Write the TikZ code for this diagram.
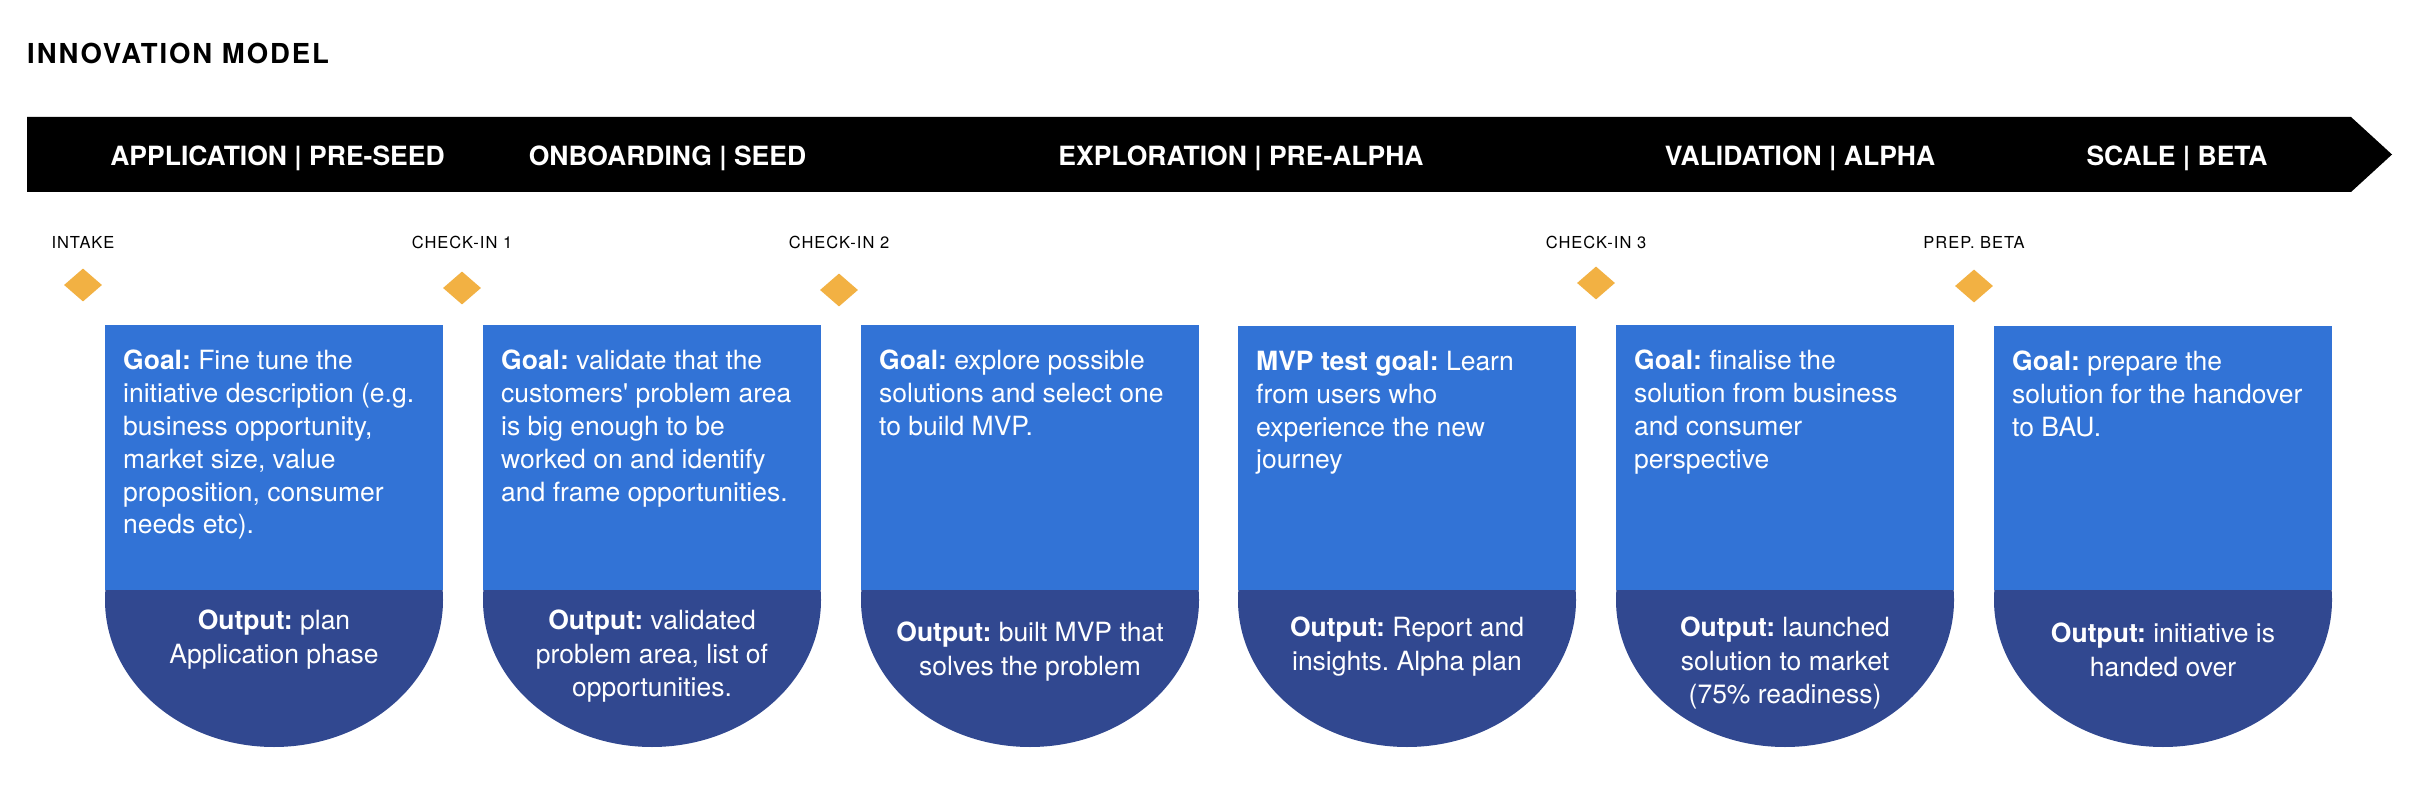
\documentclass[tikz,border=0pt]{standalone}
\usepackage{fontspec}
\setmainfont{TeX Gyre Heros}
\newfontfamily\titlefont[LetterSpace=7]{TeX Gyre Heros}
\newfontfamily\gatefont[LetterSpace=6]{TeX Gyre Heros}
\usetikzlibrary{shapes.geometric}
\definecolor{goalblue}{RGB}{50,115,214}
\definecolor{outblue}{RGB}{49,72,144}
\definecolor{gateyellow}{RGB}{242,177,67}
\frenchspacing
\begin{document}
\begin{tikzpicture}[x=1pt,y=-1pt,
    phase/.style={anchor=base,inner sep=0pt,text=white,font=\fontsize{26.5}{30}\selectfont\bfseries},
    gate/.style={anchor=base,inner sep=0pt,font=\fontsize{16.5}{20}\selectfont\gatefont},
    gatemark/.style={diamond,fill=gateyellow,minimum width=38pt,minimum height=33pt,inner sep=0pt},
    goal/.style={anchor=north west,inner sep=0pt,text=white,align=left,font=\fontsize{26.5}{32.8}\selectfont},
    output/.style={anchor=north,inner sep=0pt,text=white,align=center,font=\fontsize{26.5}{33.2}\selectfont}]
    \fill[white] (0,0) rectangle (2426,802);
    \useasboundingbox (0,0) rectangle (2426,802);

    % Title
    \node[anchor=base west,inner sep=0pt,font=\fontsize{27.5}{30}\selectfont\titlefont\bfseries] (title) at (27,64) {INNOVATION MODEL};

    % Draw phase arrow
    \fill[black] (27,117) -- (2351,117) -- (2392,154.5) -- (2351,192) -- (27,192) -- cycle;
    \node[phase] (application) at (277.5,166) {APPLICATION | PRE-SEED};
    \node[phase] (onboarding) at (667.5,166) {ONBOARDING | SEED};
    \node[phase] (exploration) at (1241,166) {EXPLORATION | PRE-ALPHA};
    \node[phase] (validation) at (1800,166) {VALIDATION | ALPHA};
    \node[phase] (scale) at (2177,166) {SCALE | BETA};

    % Milestones
    \node[gate] (intake) at (83,249) {INTAKE};
    \node[gatemark] (intakemark) at (83,285) {};
    \node[gate] (checkone) at (462,249) {CHECK-IN 1};
    \node[gatemark] (checkonemark) at (462,288) {};
    \node[gate] (checktwo) at (839,249) {CHECK-IN 2};
    \node[gatemark] (checktwomark) at (839,290) {};
    \node[gate] (checkthree) at (1596,249) {CHECK-IN 3};
    \node[gatemark] (checkthreemark) at (1596,283) {};
    \node[gate] (prepbeta) at (1974,249) {PREP. BETA};
    \node[gatemark] (prepbetamark) at (1974,286) {};

    % Phase cards
    \fill[outblue] (274,600) ellipse [x radius=169,y radius=147];
    \fill[goalblue] (105,325) rectangle (443,590);
    \node[goal] (goalone) at (123,350) {\textbf{Goal:} Fine tune the\\initiative description (e.g.\\business opportunity,\\market size, value\\proposition, consumer\\needs etc).};
    \node[output] (outputone) at (274,610) {\textbf{Output:} plan\\Application phase};

    \fill[outblue] (652,600) ellipse [x radius=169,y radius=147];
    \fill[goalblue] (483,325) rectangle (821,590);
    \node[goal] (goaltwo) at (501,350) {\textbf{Goal:} validate that the\\customers\textquotesingle{} problem area\\is big enough to be\\worked on and identify\\and frame opportunities.};
    \node[output] (outputtwo) at (652,610) {\textbf{Output:} validated\\problem area, list of\\opportunities.};

    \fill[outblue] (1030,600) ellipse [x radius=169,y radius=147];
    \fill[goalblue] (861,325) rectangle (1199,590);
    \node[goal] (goalthree) at (879,350) {\textbf{Goal:} explore possible\\solutions and select one\\to build MVP.};
    \node[output] (outputthree) at (1030,622) {\textbf{Output:} built MVP that\\solves the problem};

    \fill[outblue] (1407,600) ellipse [x radius=169,y radius=147];
    \fill[goalblue] (1238,326) rectangle (1576,590);
    \node[goal] (goalfour) at (1256,351) {\textbf{MVP test goal:} Learn\\from users who\\experience the new\\journey};
    \node[output] (outputfour) at (1407,617) {\textbf{Output:} Report and\\insights. Alpha plan};

    \fill[outblue] (1785,600) ellipse [x radius=169,y radius=147];
    \fill[goalblue] (1616,325) rectangle (1954,590);
    \node[goal] (goalfive) at (1634,350) {\textbf{Goal:} finalise the\\solution from business\\and consumer\\perspective};
    \node[output] (outputfive) at (1785,617) {\textbf{Output:} launched\\solution to market\\(75\% readiness)};

    \fill[outblue] (2163,600) ellipse [x radius=169,y radius=147];
    \fill[goalblue] (1994,326) rectangle (2332,590);
    \node[goal] (goalsix) at (2012,351) {\textbf{Goal:} prepare the\\solution for the handover\\to BAU.};
    \node[output] (outputsix) at (2163,623) {\textbf{Output:} initiative is\\handed over};
\end{tikzpicture}
\end{document}
